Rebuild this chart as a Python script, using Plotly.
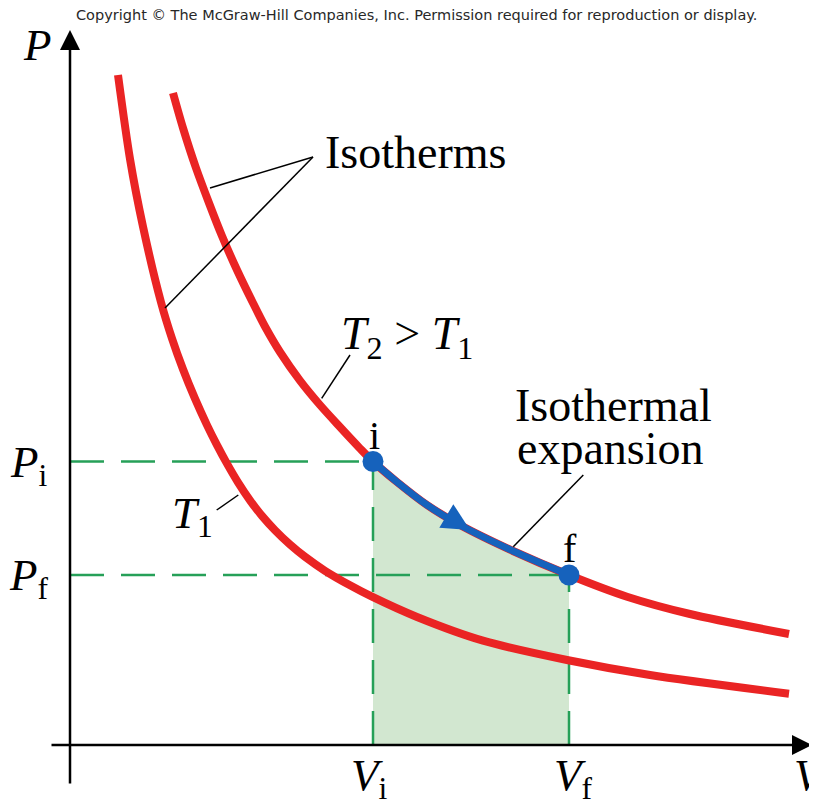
import plotly.graph_objects as go

# ---- data (arbitrary V / P units) ----
T1_V = [0.48, 0.60, 0.73, 0.91, 1.02, 1.13, 1.25, 1.37, 1.47, 1.57, 1.68, 1.80, 1.92, 2.05,
        2.20, 2.35, 2.55, 2.80, 3.02, 3.47, 4.13, 4.97, 5.80, 7.19]
T1_P = [6.70, 5.86, 5.184, 4.428, 4.065, 3.757, 3.463, 3.199, 2.999, 2.814, 2.627, 2.447, 2.291, 2.148,
        2.005, 1.882, 1.742, 1.597, 1.483, 1.28, 1.043, 0.85, 0.70, 0.513]

T2_V = [1.03, 1.13, 1.26, 1.39, 1.52, 1.67, 1.83, 1.95, 2.10, 2.30, 2.50, 2.70, 2.90,
        3.03, 3.27, 3.57, 3.90, 4.43, 4.99, 5.57, 6.20, 7.19]
T2_P = [6.52, 6.17, 5.77, 5.42, 5.09, 4.75, 4.42, 4.185, 3.93, 3.644, 3.40, 3.18, 2.966,
        2.835, 2.63, 2.40, 2.20, 1.94, 1.70, 1.483, 1.31, 1.11]

EXP_V = [3.03, 3.27, 3.57, 3.90, 4.43, 4.99]
EXP_P = [2.835, 2.63, 2.40, 2.20, 1.94, 1.70]

Vi, Vf = 3.03, 4.99
Pi, Pf = 2.835, 1.70

RED = "rgb(234,36,36)"
BLUE = "rgb(22,98,188)"
GREEN = "rgb(38,160,88)"
FILL = "rgb(210,231,208)"
SERIF = "Liberation Serif, Times New Roman, serif"

fig = go.Figure()

# shaded work area
fig.add_trace(go.Scatter(x=EXP_V, y=EXP_P, mode="lines", line=dict(width=0, shape="spline"),
                         fill="tozeroy", fillcolor=FILL, hoverinfo="skip"))

# dashed guide lines
dash = dict(color=GREEN, width=2.5, dash="34px,17px")
for xs, ys in [([0, Vi], [Pi, Pi]), ([Vi, Vi], [0, Pi]), ([0, Vf], [Pf, Pf]), ([Vf, Vf], [0, Pf])]:
    fig.add_trace(go.Scatter(x=xs, y=ys, mode="lines", line=dash, hoverinfo="skip"))

# isotherms
fig.add_trace(go.Scatter(x=T1_V, y=T1_P, mode="lines", line=dict(color=RED, width=8, shape="spline", smoothing=0.8)))
fig.add_trace(go.Scatter(x=T2_V, y=T2_P, mode="lines", line=dict(color=RED, width=8, shape="spline", smoothing=0.8)))

# isothermal expansion path
fig.add_trace(go.Scatter(x=EXP_V, y=EXP_P, mode="lines", line=dict(color=BLUE, width=7, shape="spline", smoothing=0.8)))
fig.add_trace(go.Scatter(x=[Vi, Vf], y=[Pi, Pf], mode="markers", marker=dict(color=BLUE, size=21)))

ann = []
# axes with arrows
ann.append(dict(x=0, y=7.15, ax=0, ay=-0.40, xref="x", yref="y", axref="x", ayref="y", text="",
                showarrow=True, arrowhead=2, arrowsize=1.6, arrowwidth=2.5, arrowcolor="black", standoff=0))
ann.append(dict(x=7.42, y=0, ax=-0.20, ay=0, xref="x", yref="y", axref="x", ayref="y", text="",
                showarrow=True, arrowhead=2, arrowsize=1.6, arrowwidth=2.5, arrowcolor="black", standoff=0))
# direction arrow on the expansion path
ann.append(dict(x=4.00, y=2.15, ax=3.78, ay=2.28, xref="x", yref="y", axref="x", ayref="y", text="",
                showarrow=True, arrowhead=2, arrowsize=1.1, arrowwidth=5, arrowcolor=BLUE, standoff=0))

def label(x, y, text, size=45, xanchor="center", yanchor="middle", align="center"):
    ann.append(dict(x=x, y=y, xref="x", yref="y", text=text, showarrow=False,
                    font=dict(family=SERIF, size=size, color="black"),
                    xanchor=xanchor, yanchor=yanchor, align=align))

label(-0.33, 7.00, "<i>P</i>")
label(7.40, -0.30, "<i>V</i>")
label(-0.41, 2.80, "<i>P</i><sub>i</sub>")
label(-0.41, 1.67, "<i>P</i><sub>f</sub>")
label(2.99, -0.33, "<i>V</i><sub>i</sub>")
label(5.03, -0.33, "<i>V</i><sub>f</sub>")
label(3.04, 3.10, "i", size=40)
label(5.00, 1.97, "f", size=40)
label(3.45, 5.93, "Isotherms", size=46)
label(3.37, 4.08, "<i>T</i><sub>2</sub> &gt; <i>T</i><sub>1</sub>", size=46)
label(1.22, 2.29, "<i>T</i><sub>1</sub>")
label(5.43, 3.40, "Isothermal", size=46)
label(5.40, 2.97, "expansion", size=46)

# copyright line
ann.append(dict(x=3.46, y=7.30, xref="x", yref="y", showarrow=False,
                text="Copyright © The McGraw-Hill Companies, Inc. Permission required for reproduction or display.",
                font=dict(family="DejaVu Sans, Liberation Sans, sans-serif", size=14.5, color="rgb(40,40,40)")))

# leader lines
leaders = [((2.43, 5.88), (1.40, 5.57)), ((2.43, 5.88), (0.95, 4.37)),
           ((2.80, 3.90), (2.517, 3.467)), ((1.683, 2.50), (1.467, 2.35)),
           ((5.133, 2.70), (4.433, 1.983))]
shapes = [dict(type="line", xref="x", yref="y", x0=a[0], y0=a[1], x1=b[0], y1=b[1],
               line=dict(color="black", width=1.5)) for a, b in leaders]

# page body has an 8px margin, so the figure is 8px smaller and its ranges start 8px later
fig.update_layout(
    width=809, height=793, margin=dict(l=0, r=0, t=0, b=0),
    paper_bgcolor="white", plot_bgcolor="white", showlegend=False,
    xaxis=dict(range=[-0.62, 7.47], visible=False, fixedrange=True),
    yaxis=dict(range=[-0.56, 7.37], visible=False, fixedrange=True),
    annotations=ann, shapes=shapes,
)

fig.write_html("out.html")
